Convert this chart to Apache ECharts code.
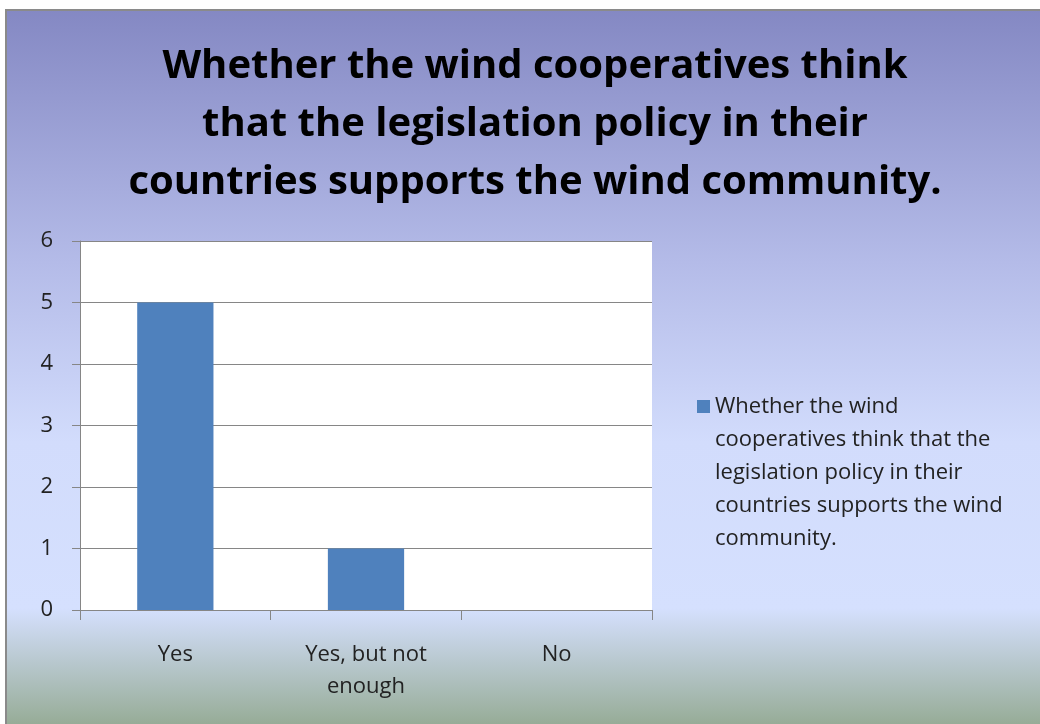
<!DOCTYPE html>
<html>
<head>
<meta charset="utf-8">
<script src="https://cdn.jsdelivr.net/npm/echarts@6/dist/echarts.min.js"></script>
<style>
  html, body { margin: 0; padding: 0; background: #ffffff; }
  #chart { width: 1040px; height: 724px; }
</style>
</head>
<body>
<div id="chart"></div>
<script>
const titleLines = [
  'Whether the wind cooperatives think',
  'that the legislation policy in their',
  'countries supports the wind community.'
];
const categories = ['Yes', 'Yes, but not\nenough', 'No'];
const seriesName = 'Whether the wind cooperatives think that the legislation policy in their countries supports the wind community.';
const legendLines = [
  'Whether the wind',
  'cooperatives think that the',
  'legislation policy in their',
  'countries supports the wind',
  'community.'
];
const values = [5, 1, 0];
const yTicks = [0, 1, 2, 3, 4, 5, 6];

const FONT = '"Open Sans", "Noto Sans", sans-serif';
const chart = echarts.init(document.getElementById('chart'), null, { renderer: 'canvas' });

// The legend icon sits at the vertical middle of its label; leading blank
// lines keep the icon level with the first line of the wrapped text.
const legendLabel = new Array(legendLines.length - 1).fill('').join('\n') + '\n' + legendLines.join('\n');

chart.setOption({
  animation: false,
  graphic: [
    {
      type: 'rect',
      z: -100,
      shape: { x: 6, y: 10, width: 1040, height: 720 },
      style: {
        fill: new echarts.graphic.LinearGradient(0, 0, 0, 1, [
          { offset: 0, color: '#8488c3' },
          { offset: 0.35, color: '#b4bbe8' },
          { offset: 0.6, color: '#d2dcfc' },
          { offset: 0.83, color: '#d5e0fe' },
          { offset: 1, color: '#93a991' }
        ]),
        stroke: '#8a8a8a',
        lineWidth: 2
      }
    }
  ],
  title: {
    text: titleLines.join('\n'),
    left: 530,
    textAlign: 'center',
    top: 33,
    textStyle: {
      fontFamily: FONT,
      fontWeight: 'bold',
      fontSize: 40,
      lineHeight: 58,
      color: '#000000'
    }
  },
  legend: {
    orient: 'vertical',
    left: 697,
    top: 258,
    padding: 0,
    icon: 'rect',
    itemWidth: 13,
    itemHeight: 13,
    itemGap: 0,
    formatter: () => legendLabel,
    textStyle: {
      fontFamily: FONT,
      fontSize: 22,
      lineHeight: 33,
      color: '#222222'
    },
    data: [seriesName]
  },
  grid: {
    left: 80,
    right: 388,
    top: 241,
    bottom: 114,
    show: true,
    backgroundColor: '#ffffff',
    borderWidth: 0
  },
  xAxis: {
    type: 'category',
    data: categories,
    axisLine: { show: true, lineStyle: { color: '#868686', width: 1 } },
    axisTick: { show: true, length: 10, alignWithLabel: false, lineStyle: { color: '#868686' } },
    axisLabel: {
      margin: 29,
      fontFamily: FONT,
      fontSize: 22,
      lineHeight: 32,
      color: '#222222'
    }
  },
  yAxis: {
    type: 'value',
    min: yTicks[0],
    max: yTicks[yTicks.length - 1],
    interval: 1,
    axisLine: { show: true, lineStyle: { color: '#868686', width: 1 } },
    axisTick: { show: true, length: 8, lineStyle: { color: '#868686' } },
    splitLine: { show: true, lineStyle: { color: '#868686', width: 1 } },
    axisLabel: {
      margin: 27,
      fontFamily: FONT,
      fontSize: 22,
      color: '#222222'
    }
  },
  series: [
    {
      name: seriesName,
      type: 'bar',
      data: values,
      barWidth: '40%',
      itemStyle: { color: '#4f81bd' }
    }
  ]
});
</script>
</body>
</html>
